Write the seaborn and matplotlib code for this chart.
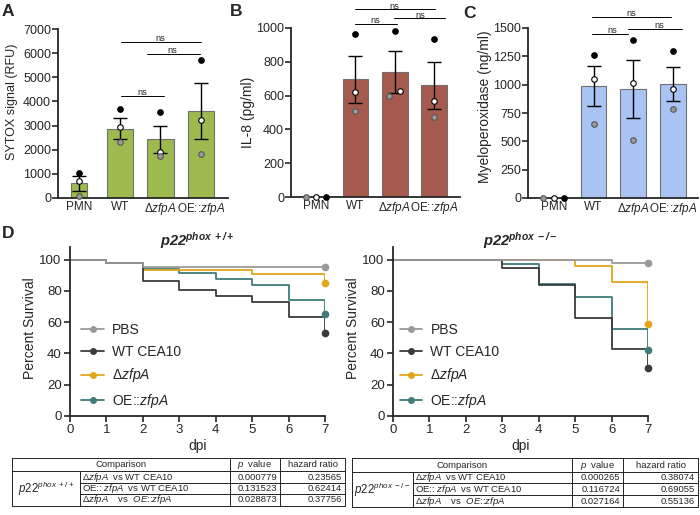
import matplotlib
matplotlib.use('Agg')
import matplotlib.pyplot as plt
from matplotlib.lines import Line2D
import pandas as pd
import seaborn as sns

# ---- data ----
groups = ['PMN', 'WT', 'dzfpA', 'OE::zfpA']
group_labels = ['PMN', 'WT', r'$\mathit{ΔzfpA}$', r'OE::$\mathit{zfpA}$']

# A - SYTOX signal (RFU)
sytox_mean = [610, 2870, 2430, 3600]
sytox_sem = [300, 430, 570, 1150]
sytox_black = [1040, 3700, 3560, 5720]
sytox_white = [690, 2950, 1900, 3220]
sytox_grey = [70, 2300, 1720, 1830]

# B - IL-8 (pg/ml)
il8_mean = [0, 697, 740, 661]
il8_sem = [0, 138, 123, 140]
il8_black = [0, 964, 984, 935]
il8_white = [0, 624, 630, 570]
il8_grey = [0, 511, 598, 475]

# C - Myeloperoxidase (ng/ml)
mpo_mean = [0, 989, 965, 1009]
mpo_sem = [0, 180, 257, 150]
mpo_black = [0, 1262, 1395, 1297]
mpo_white = [0, 1054, 1015, 962]
mpo_grey = [0, 653, 514, 784]

# D - survival
days = [0, 1, 2, 3, 4, 5, 6, 7]
km_names = ['PBS', 'WT CEA10', 'dzfpA', 'OE::zfpA']
km_labels = ['PBS', 'WT CEA10', r'$\mathit{ΔzfpA}$', r'OE::$\mathit{zfpA}$']
km_colors = ['#9a9a9a', '#3b3b3b', '#e3a61a', '#3f7c7a']
surv_wt = {
    'PBS':      [100, 97.8, 95.5, 95.5, 95.5, 95.5, 95.5, 95.5],
    'WT CEA10': [100, 97.8, 86.1, 80.3, 76.5, 72.6, 63.0, 53.0],
    'dzfpA':    [100, 97.8, 93.5, 93.5, 93.5, 90.8, 90.8, 84.8],
    'OE::zfpA': [100, 97.8, 94.0, 91.7, 87.8, 83.8, 74.1, 65.0],
}
surv_ko = {
    'PBS':      [100, 100, 100, 100, 100, 100, 97.9, 97.9],
    'WT CEA10': [100, 100, 100, 94.6, 84.0, 62.4, 42.5, 30.5],
    'dzfpA':    [100, 100, 100, 100, 100, 96.0, 85.5, 59.0],
    'OE::zfpA': [100, 100, 100, 97.0, 84.4, 76.3, 55.6, 42.3],
}

# tables
cmp_labels = [r'$\mathit{ΔzfpA}$  vs WT CEA10',
              r'OE:: $\mathit{zfpA}$  vs WT CEA10',
              r'$\mathit{ΔzfpA}$    vs  $\mathit{OE}$::$\mathit{zfpA}$']
p_wt = ['0.000779', '0.131523', '0.028873']
hr_wt = ['0.23565', '0.62414', '0.37756']
p_ko = ['0.000265', '0.116724', '0.027164']
hr_ko = ['0.38074', '0.69055', '0.55136']

# ---- style ----
sns.set_theme(style='ticks')
plt.rcParams['font.family'] = ['Liberation Sans', 'DejaVu Sans']
plt.rcParams['mathtext.fontset'] = 'custom'
plt.rcParams['mathtext.rm'] = 'Liberation Sans'
plt.rcParams['mathtext.it'] = 'Liberation Sans:italic'
plt.rcParams['mathtext.bf'] = 'Liberation Sans:bold'
plt.rcParams['mathtext.bfit'] = 'Liberation Sans:bold:italic'
plt.rcParams['mathtext.sf'] = 'Liberation Sans'
plt.rcParams['axes.linewidth'] = 1.3

W, H = 700, 515
fig = plt.figure(figsize=(7, 5.15), dpi=100)


def px_axes(l, t, r, b):
    return fig.add_axes([l / W, 1 - b / H, (r - l) / W, (b - t) / H])


def bar_panel(ax, mean, sem, black, white, grey, color, ylim, step, ylabel,
              xlim, offsets, sig, label_xy, label_fs=10):
    sns.barplot(x=groups, y=mean, color=color, width=0.65, saturation=1,
                edgecolor='#707070', linewidth=0.8, ax=ax, zorder=2)
    xs = list(range(len(groups)))
    ex = [x for x, s in zip(xs, sem) if s > 0]
    ax.errorbar(ex, [m for m, s in zip(mean, sem) if s > 0],
                yerr=[s for s in sem if s > 0], fmt='none', ecolor='black',
                elinewidth=1, capsize=5, capthick=1, zorder=3)
    for vals, fc, ec, off in [(black, 'black', 'black', offsets[0]),
                              (white, 'white', 'black', offsets[1]),
                              (grey, '#9a9a9a', '#555555', offsets[2])]:
        ax.scatter([x + o for x, o in zip(xs, off)], vals, s=16, c=fc,
                   edgecolors=ec, linewidths=0.8, zorder=4, clip_on=False)
    # significance lines
    for (x0, x1, y, tx) in sig:
        ax.plot([x0, x1], [y, y], color='black', lw=0.7, clip_on=False)
        ax.annotate('ns', (tx, y), xytext=(0, 0.6), textcoords='offset points',
                    ha='center', va='baseline', fontsize=6.6,
                    annotation_clip=False)
    ax.set_xlim(*xlim)
    ax.set_ylim(0, ylim)
    ax.set_yticks(range(0, ylim + 1, step))
    ax.set_xticks(xs)
    ax.set_xticklabels(group_labels, fontsize=8.5)
    ax.tick_params(axis='x', length=0, pad=2)
    ax.tick_params(axis='y', length=4, width=1.2, labelsize=9, pad=1)
    ax.set_xlabel('')
    ax.set_ylabel(ylabel, fontsize=label_fs)
    ax.yaxis.set_label_coords(*label_xy)
    sns.despine(ax=ax)


ax_a = px_axes(58, 29, 228, 198)
bar_panel(ax_a, sytox_mean, sytox_sem, sytox_black, sytox_white, sytox_grey,
          '#9cba4e', 7000, 1000, 'SYTOX signal (RFU)', (-0.52, 3.66),
          [[0, 0, 0, 0]] * 3,
          [(1.02, 3.0, 6450, 2.0), (1.66, 2.98, 5980, 2.3),
           (1.02, 2.09, 4240, 1.55)], (-0.235, 0.57), label_fs=9)
# PMN bar in A is narrower
ax_a.patches[0].set_x(-0.205)
ax_a.patches[0].set_width(0.41)

ax_b = px_axes(291, 28, 460, 197)
bar_panel(ax_b, il8_mean, il8_sem, il8_black, il8_white, il8_grey,
          '#a65a4e', 1000, 200, 'IL-8 (pg/ml)', (-0.64, 3.66),
          [[0.26, 0, 0, 0], [0, 0, 0.14, 0], [-0.26, 0, -0.14, 0]],
          [(0.99, 3.03, 1110, 2.0), (0.99, 2.05, 1026, 1.5),
           (1.97, 3.28, 1057, 2.66)], (-0.215, 0.5))

ax_c = px_axes(528, 28, 698, 198)
bar_panel(ax_c, mpo_mean, mpo_sem, mpo_black, mpo_white, mpo_grey,
          '#a9c3f3', 1500, 250, 'Myeloperoxidase (ng/ml)', (-0.65, 3.63),
          [[0.26, 0, 0, 0], [0, 0, 0, 0], [-0.26, 0, 0, 0]],
          [(0.95, 2.96, 1597, 1.96), (0.95, 1.87, 1449, 1.48),
           (1.87, 3.22, 1490, 2.65)], (-0.21, 0.54))


def km_panel(ax, surv, title, leg_x):
    order = ['OE::zfpA', 'dzfpA', 'WT CEA10', 'PBS']
    for name in order:
        c = km_colors[km_names.index(name)]
        df = pd.DataFrame({'day': days, 'surv': surv[name]})
        sns.lineplot(data=df, x='day', y='surv', color=c, lw=1.3,
                     drawstyle='steps-post', estimator=None, ax=ax)
        ax.plot(days[-1], surv[name][-1], 'o', color=c, ms=4.5,
                clip_on=False, zorder=5)
    ax.set_xlim(0, 7)
    ax.set_ylim(0, 108)
    ax.set_xticks(days)
    ax.set_yticks([0, 20, 40, 60, 80, 100])
    ax.tick_params(length=4, width=1.2, labelsize=9.5, pad=2)
    ax.set_xlabel('dpi', fontsize=10, labelpad=2)
    ax.set_ylabel('Percent Survival', fontsize=10)
    ax.yaxis.set_label_coords(-0.13, 0.52)
    sns.despine(ax=ax)
    ax.text(0.5, 1.005, title, transform=ax.transAxes, ha='center',
            va='baseline', fontsize=10.5)
    handles = [Line2D([], [], color=c, marker='o', ms=4, lw=1.3)
               for c in km_colors]
    ax.legend(handles, km_labels, loc='lower left',
              bbox_to_anchor=(leg_x, 0.035), frameon=False, fontsize=10,
              handlelength=1.6, handletextpad=0.6, labelspacing=0.55,
              borderaxespad=0, borderpad=0)


ax_d1 = px_axes(70, 247, 325, 416)
km_panel(ax_d1, surv_wt, r'$\mathbfit{p22}^{\mathbfit{phox\ +/+}}$', 0.045)
ax_d2 = px_axes(393, 247, 648, 416)
km_panel(ax_d2, surv_ko, r'$\mathbfit{p22}^{\mathbfit{phox\ -/-}}$', 0.027)

# panel letters
for txt, x, y in [('A', 2, 12), ('B', 230, 12), ('C', 463, 14), ('D', 2, 233)]:
    fig.text(x / W, 1 - y / H, txt, fontsize=12.5, fontweight='bold',
             va='center', ha='left')

# tables
tab = fig.add_axes([0, 0, 1, 1])
tab.set_xlim(0, W)
tab.set_ylim(H, 0)
tab.axis('off')


def draw_table(xs, ys, row_label, pvals, hrs):
    L, c1, c2, c3, R = xs
    T, h1, r1, r2, B = ys
    kw = dict(color='#222222', lw=0.7)
    tab.plot([L, R, R, L, L], [T, T, B, B, T], **kw)
    tab.plot([L, R], [h1, h1], **kw)
    tab.plot([c1, R], [r1, r1], **kw)
    tab.plot([c1, R], [r2, r2], **kw)
    tab.plot([c1, c1], [h1, B], **kw)
    tab.plot([c2, c2], [T, B], **kw)
    tab.plot([c3, c3], [T, B], **kw)
    fs = 6.8
    hy = (T + h1) / 2
    tab.text((L + c2) / 2, hy, 'Comparison', ha='center', va='center', fontsize=fs)
    tab.text((c2 + c3) / 2, hy, r'$\mathit{p}$  value', ha='center', va='center', fontsize=fs)
    tab.text((c3 + R) / 2, hy, 'hazard ratio', ha='center', va='center', fontsize=fs)
    tab.text((L + c1) / 2, (h1 + B) / 2, row_label, ha='center', va='center', fontsize=8.3)
    for i, (y0, y1) in enumerate([(h1, r1), (r1, r2), (r2, B)]):
        cy = (y0 + y1) / 2
        tab.text(c1 + 2, cy, cmp_labels[i], ha='left', va='center', fontsize=fs)
        tab.text(c3 - 3, cy, pvals[i], ha='right', va='center', fontsize=fs)
        tab.text(R - 3, cy, hrs[i], ha='right', va='center', fontsize=fs)


draw_table((12, 80, 230, 280, 345), (458, 471, 483, 494, 506),
           r'$\mathit{p22}^{\mathit{phox\ +/+}}$', p_wt, hr_wt)
draw_table((352, 413, 572, 623, 698), (458, 472, 483, 495, 507),
           r'$\mathit{p22}^{\mathit{phox\ -/-}}$', p_ko, hr_ko)

fig.savefig('out.png', dpi=100)
